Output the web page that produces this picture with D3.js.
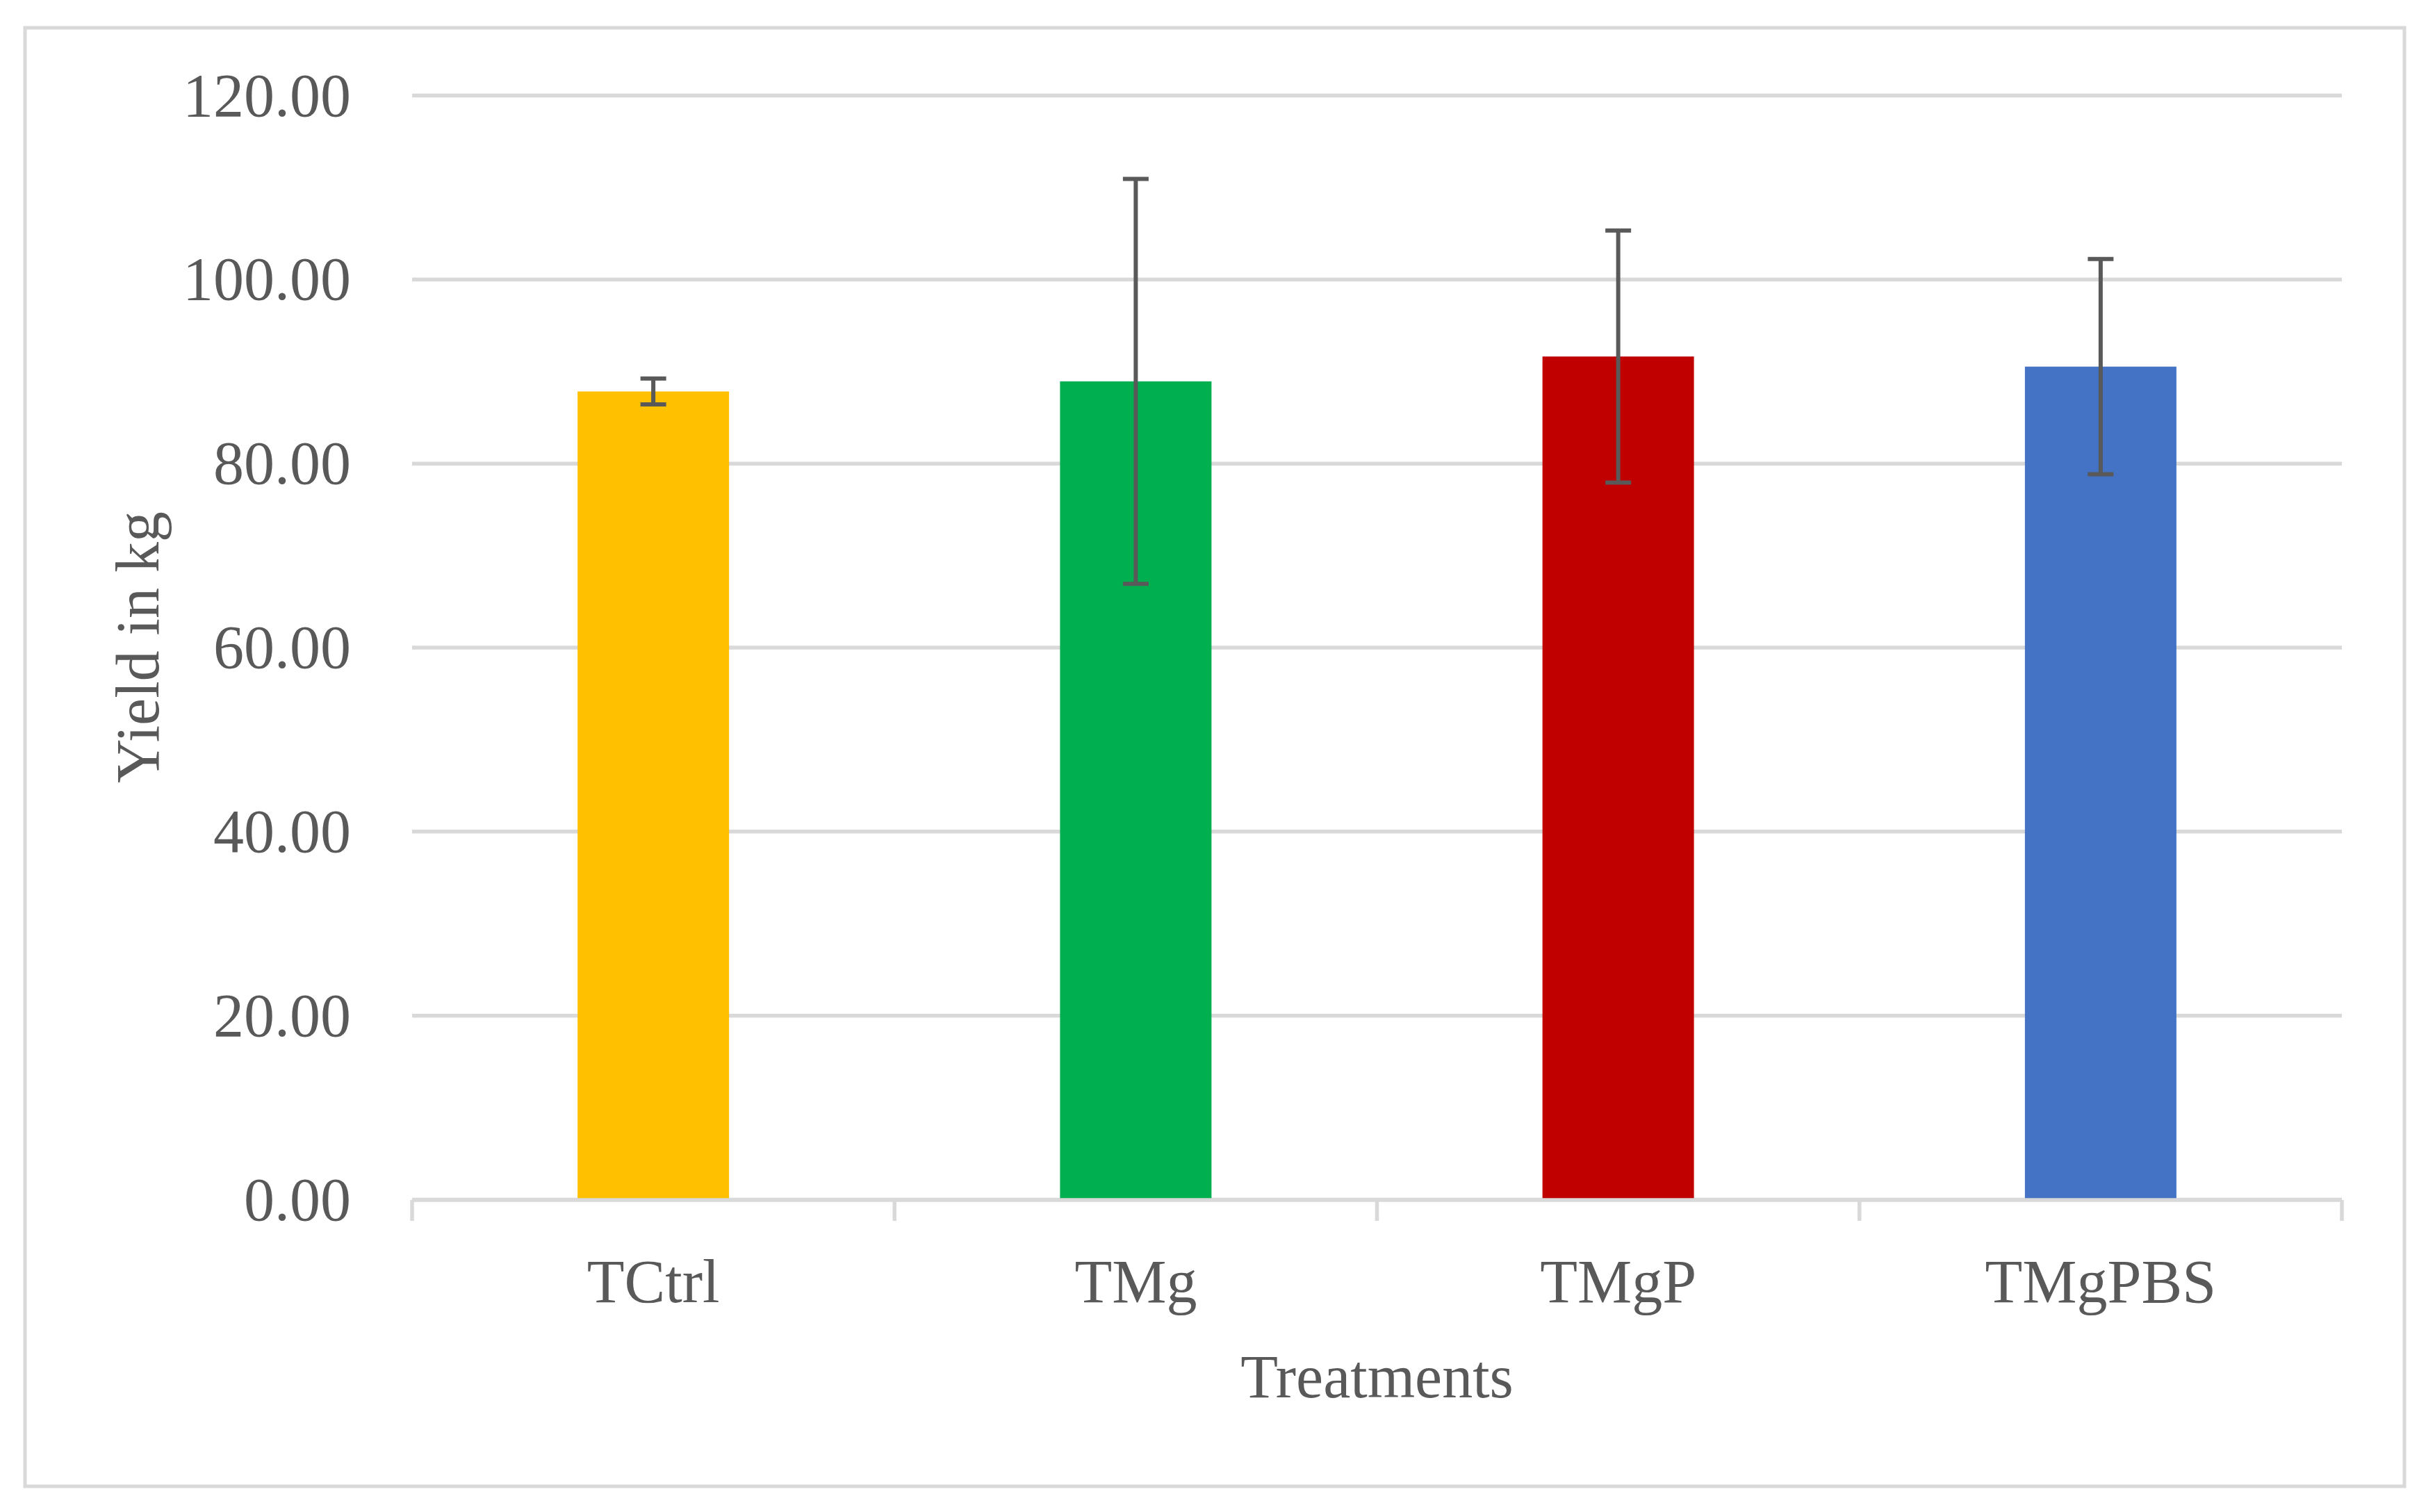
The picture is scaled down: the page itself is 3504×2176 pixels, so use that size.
<!DOCTYPE html>
<html>
<head>
<meta charset="utf-8">
<script src="https://cdn.jsdelivr.net/npm/d3@7"></script>
<style>
  body { margin: 0; background: #fff; }
  svg { display: block; }
</style>
</head>
<body>
<svg id="chart" width="3504" height="2176"></svg>
<script>
const categories = ["TCtrl", "TMg", "TMgP", "TMgPBS"];
const means = [87.8, 88.9, 91.6, 90.5];
const errors = [1.4, 22.0, 13.7, 11.7];
const colors = ["#FFC000", "#00B050", "#C00000", "#4472C4"];
const yTicks = [0, 20, 40, 60, 80, 100, 120];

const svg = d3.select("#chart");
const width = +svg.attr("width");
const height = +svg.attr("height");

const margin = { left: 593, right: 134, top: 137, bottom: 450 };
const plotW = width - margin.left - margin.right;
const plotH = height - margin.top - margin.bottom;
const textColor = "#595959";
const lineColor = "#d9d9d9";
const font = "'Liberation Serif', 'Times New Roman', serif";
const fontSize = 88;

// outer frame
svg.append("rect")
  .attr("x", 36)
  .attr("y", 40)
  .attr("width", 3424)
  .attr("height", 2099)
  .attr("fill", "#fff")
  .attr("stroke", lineColor)
  .attr("stroke-width", 5);

const g = svg.append("g")
  .attr("transform", `translate(${margin.left},${margin.top})`);

const x = d3.scaleBand().domain(categories).range([0, plotW]).padding(0);
const y = d3.scaleLinear().domain([0, 120]).range([plotH, 0]);

// y axis with gridlines
const yAxis = g.append("g")
  .call(d3.axisLeft(y)
    .tickValues(yTicks)
    .tickSize(-plotW)
    .tickPadding(88)
    .tickFormat(d3.format(".2f")));
yAxis.select(".domain").remove();
yAxis.selectAll(".tick line")
  .attr("stroke", lineColor)
  .attr("stroke-width", 5.5);
yAxis.selectAll(".tick text")
  .attr("fill", textColor)
  .attr("font-family", font)
  .attr("font-size", fontSize)
  .attr("dy", "0.33em");

// bars
const barW = x.bandwidth() * 0.314;
g.selectAll(".bar")
  .data(categories)
  .enter()
  .append("rect")
  .attr("class", "bar")
  .attr("x", (d) => x(d) + (x.bandwidth() - barW) / 2)
  .attr("y", (d, i) => y(means[i]))
  .attr("width", barW)
  .attr("height", (d, i) => plotH - y(means[i]))
  .attr("fill", (d, i) => colors[i]);

// x axis line and boundary ticks
g.append("line")
  .attr("x1", 0)
  .attr("x2", plotW)
  .attr("y1", plotH + 1)
  .attr("y2", plotH + 1)
  .attr("stroke", lineColor)
  .attr("stroke-width", 5.5);

const boundaries = categories.map((d) => x(d)).concat([plotW]);
g.selectAll(".xtick")
  .data(boundaries)
  .enter()
  .append("line")
  .attr("class", "xtick")
  .attr("x1", (d) => d)
  .attr("x2", (d) => d)
  .attr("y1", plotH + 1)
  .attr("y2", plotH + 31)
  .attr("stroke", lineColor)
  .attr("stroke-width", 5.5);

g.selectAll(".xlabel")
  .data(categories)
  .enter()
  .append("text")
  .attr("class", "xlabel")
  .attr("x", (d) => x(d) + x.bandwidth() / 2)
  .attr("y", plotH + 148)
  .attr("text-anchor", "middle")
  .attr("fill", textColor)
  .attr("font-family", font)
  .attr("font-size", fontSize)
  .text((d) => d);

// error bars
const capW = 37;
const errG = g.append("g")
  .attr("stroke", "#595959")
  .attr("stroke-width", 6);

categories.forEach((c, i) => {
  const cx = x(c) + x.bandwidth() / 2;
  const top = y(means[i] + errors[i]);
  const bottom = y(means[i] - errors[i]);
  errG.append("line")
    .attr("x1", cx).attr("x2", cx)
    .attr("y1", top).attr("y2", bottom);
  errG.append("line")
    .attr("x1", cx - capW / 2).attr("x2", cx + capW / 2)
    .attr("y1", top).attr("y2", top);
  errG.append("line")
    .attr("x1", cx - capW / 2).attr("x2", cx + capW / 2)
    .attr("y1", bottom).attr("y2", bottom);
});

// axis titles
svg.append("text")
  .attr("transform", `translate(228,${margin.top + plotH / 2}) rotate(-90)`)
  .attr("text-anchor", "middle")
  .attr("fill", textColor)
  .attr("font-family", font)
  .attr("font-size", fontSize)
  .text("Yield in kg");

svg.append("text")
  .attr("x", margin.left + plotW / 2)
  .attr("y", 2011)
  .attr("text-anchor", "middle")
  .attr("fill", textColor)
  .attr("font-family", font)
  .attr("font-size", fontSize)
  .text("Treatments");
</script>
</body>
</html>
